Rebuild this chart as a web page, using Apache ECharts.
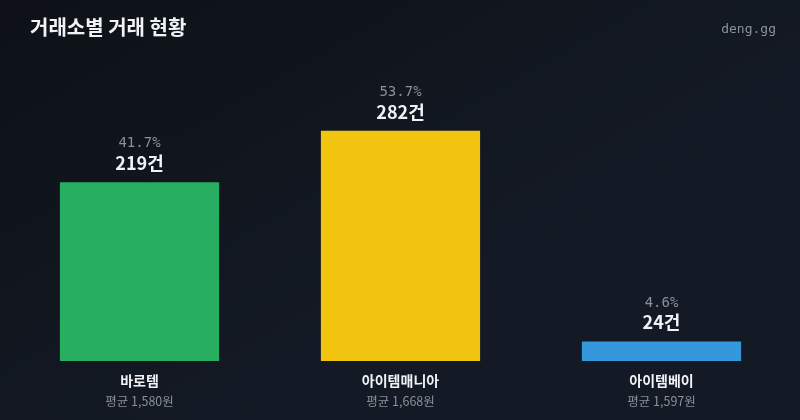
<!DOCTYPE html>
<html><head><meta charset="utf-8">
<script src="https://cdn.jsdelivr.net/npm/echarts@6/dist/echarts.min.js"></script>
<style>html,body{margin:0;padding:0;background:#0e1219;}#c{width:800px;height:420px;}</style>
</head><body><div id="c"></div>
<script>
const categories = ['바로템', '아이템매니아', '아이템베이'];
const counts = [219, 282, 24];
const shares = ['41.7%', '53.7%', '4.6%'];
const avgPrices = ['1,580', '1,668', '1,597'];
const colors = ['#27ae60', '#f1c40f', '#3498db'];

const chart = echarts.init(document.getElementById('c'));
const KR = '"Noto Sans CJK KR","Noto Sans",sans-serif';
chart.setOption({
  backgroundColor: {type:'linear',x:0,y:0,x2:0.3,y2:1,colorStops:[{offset:0,color:'#0d1117'},{offset:1,color:'#141a25'}]},
  title: {text:'거래소별 거래 현황', left:25, top:12, textStyle:{color:'#f0f2f5', fontSize:20, fontWeight:'bold', fontFamily:KR}},
  graphic: [{type:'text', right:24, top:23, style:{text:'deng.gg', fill:'#8b9099', font:'13px "DejaVu Sans Mono", monospace'}}],
  grid: {left:9, right:8, top:116, bottom:59, containLabel:false},
  xAxis: {type:'category', data:categories, axisLine:{show:false}, axisTick:{show:false},
    axisLabel:{margin:9, interval:0, fontFamily:KR,
      formatter:(v,i)=>'{n|'+v+'}\n{a|평균 '+avgPrices[i]+'원}',
      rich:{n:{color:'#f0f2f5', fontSize:14, fontWeight:'bold', fontFamily:KR, lineHeight:21},
            a:{color:'#8b9099', fontSize:12.5, fontFamily:KR, lineHeight:21}}}},
  yAxis: {type:'value', min:0, max:300, show:false, splitLine:{show:false}},
  series: [{type:'bar', barCategoryGap:'39%',
    data: counts.map((v,i)=>({value:v, itemStyle:{color:colors[i]}})),
    label:{show:true, position:'top', distance:8,
      formatter:(p)=>'{p|'+shares[p.dataIndex]+'}\n{c|'+p.value+'건}',
      rich:{p:{color:'#8b9099', fontSize:14, fontFamily:'"DejaVu Sans Mono",monospace', lineHeight:17},
            c:{color:'#f0f2f5', fontSize:18, fontWeight:'bold', fontFamily:KR, lineHeight:22}}}}]
});
</script></body></html>
